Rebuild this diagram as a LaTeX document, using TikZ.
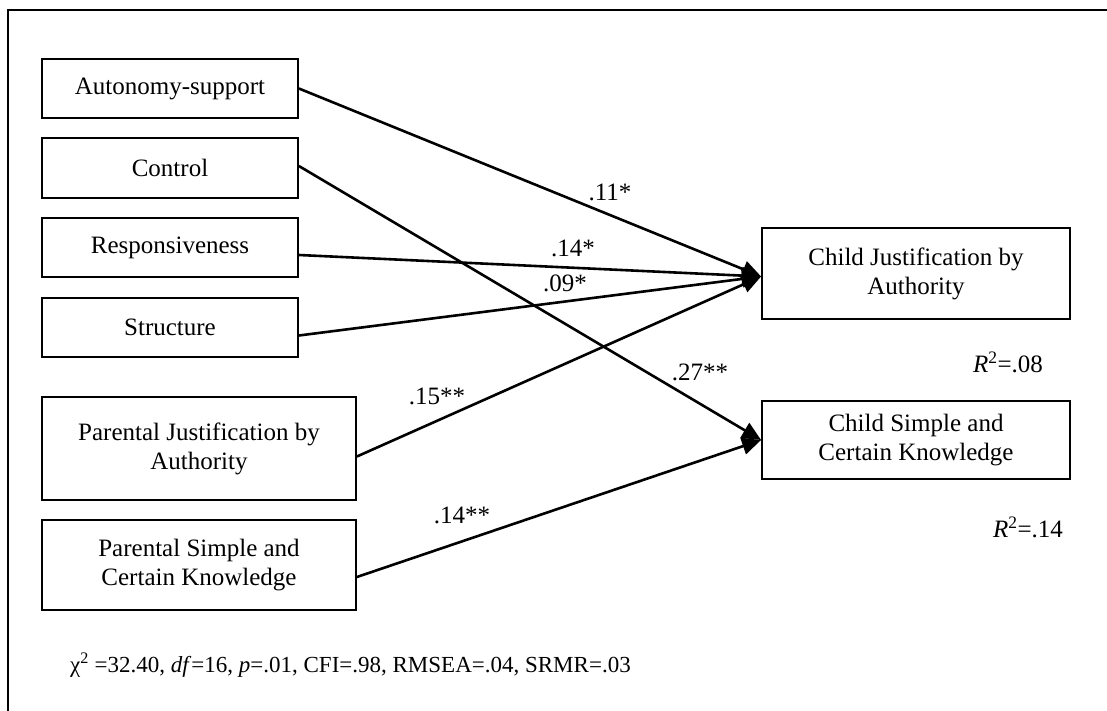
\documentclass[tikz,border=0pt]{standalone}
\usepackage{fontspec}
\setmainfont{Liberation Serif}
\usetikzlibrary{arrows.meta}
\begin{document}
\begin{tikzpicture}[x=1pt,y=-1pt,
  every node/.style={font=\fontsize{25}{29}\selectfont},
  varbox/.style={draw, line width=1.8pt, align=center, inner sep=0pt},
  regpath/.style={line width=2.6pt, -{Triangle[length=19pt,width=17pt]}},
  coef/.style={inner sep=0pt}
]
\useasboundingbox (0,0) rectangle (1107,711);
% outer frame (continues past the page edge)
\coordinate (fl) at (8,730);
\coordinate (fc) at (8,10);
\coordinate (fr) at (1130,10);
\draw[line width=2pt] (fl) -- (fc) -- (fr);

% predictors
\node[varbox, minimum width=256pt, minimum height=59pt] (aut) at (170,88.5) {Autonomy-support};
\node[varbox, minimum width=256pt, minimum height=60pt] (ctl) at (170,168) {Control};
\node[varbox, minimum width=256pt, minimum height=59pt] (rsp) at (170,247.5) {Responsiveness};
\node[varbox, minimum width=256pt, minimum height=59pt] (str) at (170,327.5) {Structure};
\node[varbox, minimum width=314pt, minimum height=103pt] (pja) at (199,448.5) {Parental Justification by\\Authority};
\node[varbox, minimum width=314pt, minimum height=90pt] (psk) at (199,565) {Parental Simple and\\Certain Knowledge};

% outcomes
\node[varbox, minimum width=308pt, minimum height=91pt] (cja) at (916,273.5) {Child Justification by\\Authority};
\node[varbox, minimum width=308pt, minimum height=78pt] (csk) at (916,440) {Child Simple and\\Certain Knowledge};
\coordinate (cjain) at ([yshift=-3pt]cja.west);

% paths
\draw[regpath] (aut.east) -- (cjain);
\draw[regpath] ([yshift=2pt]ctl.east) -- (csk.west);
\draw[regpath] ([yshift=-7.5pt]rsp.east) -- (cjain);
\draw[regpath] ([yshift=-8pt]str.east) -- (cjain);
\draw[regpath] ([yshift=-8pt]pja.east) -- (cjain);
\draw[regpath] ([yshift=-12pt]psk.east) -- (csk.west);

% coefficients
\node[coef] (c1) at (610,192) {.11*};
\node[coef] (c2) at (573,248) {.14*};
\node[coef] (c3) at (565,283) {.09*};
\node[coef] (c4) at (437,396) {.15**};
\node[coef] (c5) at (700,372) {.27**};
\node[coef] (c6) at (462,515) {.14**};

% explained variance
\node[coef] (r1) at (1008,362) {\textit{R}\textsuperscript{2}=.08};
\node[coef] (r2) at (1028,527) {\textit{R}\textsuperscript{2}=.14};

% fit statistics
\node[coef, anchor=west, font=\fontsize{23}{27}\selectfont] (fit) at (70,665) {χ\textsuperscript{2} =32.40, \textit{df}=16, \textit{p}=.01, CFI=.98, RMSEA=.04, SRMR=.03};
\end{tikzpicture}
\end{document}
